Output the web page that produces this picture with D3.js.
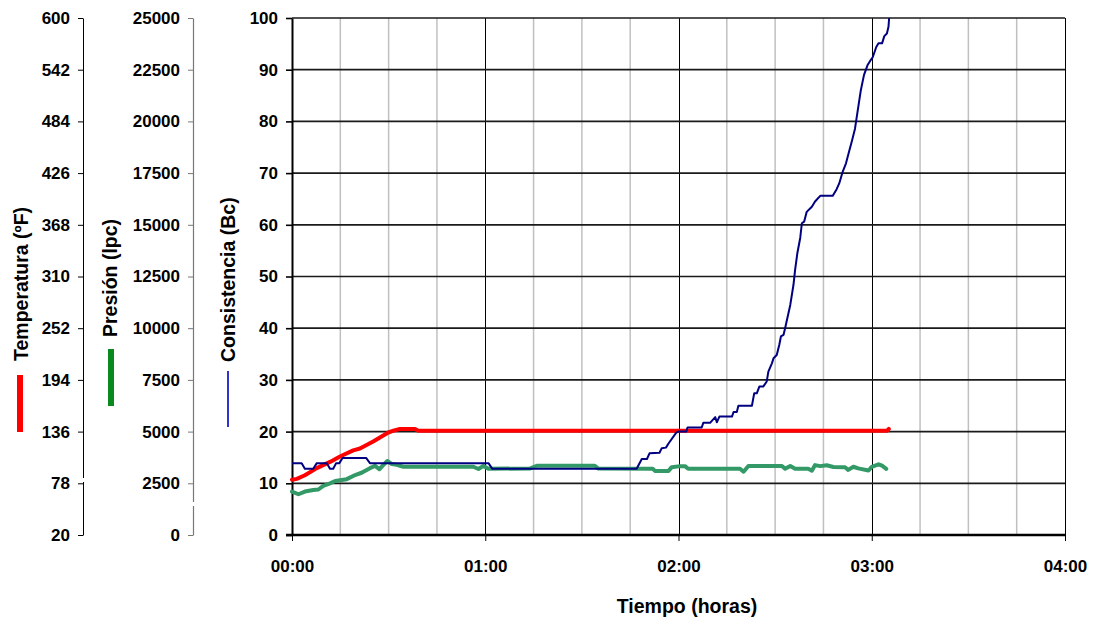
<!DOCTYPE html>
<html>
<head>
<meta charset="utf-8">
<script src="https://cdn.jsdelivr.net/npm/d3@7"></script>
<style>
  html, body { margin: 0; padding: 0; background: #fff; }
  svg { display: block; font-family: "Liberation Sans", Arial, sans-serif; font-weight: bold; }
</style>
</head>
<body>
<svg id="chart" width="1094" height="619"></svg>
<script>
// ---- tick values ----
const hourTicks = [0, 60, 120, 180, 240];               // minutes
const hourLabels = ["00:00", "01:00", "02:00", "03:00", "04:00"];
const temperatureTicks = [20, 78, 136, 194, 252, 310, 368, 426, 484, 542, 600];
const pressureTicks = [0, 2500, 5000, 7500, 10000, 12500, 15000, 17500, 20000, 22500, 25000];
const consistencyTicks = [0, 10, 20, 30, 40, 50, 60, 70, 80, 90, 100];

// ---- temperature (ºF) vs elapsed minutes ----
const tempMinutes = [0, 1.5, 4, 7.7, 11.8, 14.9, 19, 21.1, 25.2, 29.9, 31.5, 33.5, 38.2, 39.2, 184.8, 185.3];
const tempF       = [82, 83, 87, 95, 102, 108, 115, 117, 125, 135, 137, 139, 139, 137, 137, 139];

// ---- pressure (lpc) vs elapsed minutes ----
const presMinutes = [0, 2, 4, 6.6, 8.2, 9.7, 11.8, 13.4, 17, 19.6, 21.6, 24.2, 25.8, 27.1, 28.4, 29.6, 31, 32.5, 34.6,
  56.3, 57.9, 59.4, 61, 74, 76, 94, 95, 112, 112.7, 116.9, 117.9, 120.5, 122, 123, 139.1, 140.2, 141.7,
  152.1, 153.1, 154.7, 156.2, 160.3, 161.4, 162.4, 164, 166, 168.1, 171.7, 172.7, 174.3, 175.8, 179, 180,
  182.1, 183.2, 184.5];
const presLpc = [2100, 1970, 2100, 2180, 2200, 2370, 2500, 2610, 2700, 2900, 3010, 3230, 3340, 3180, 3390, 3580, 3430, 3390, 3300,
  3300, 3190, 3340, 3200, 3220, 3350, 3350, 3220, 3200, 3100, 3100, 3280, 3330, 3330, 3200, 3200, 3060, 3340,
  3340, 3200, 3340, 3200, 3200, 3110, 3380, 3330, 3370, 3290, 3280, 3150, 3300, 3220, 3120, 3300,
  3420, 3350, 3200];

// ---- consistency (Bc) vs elapsed minutes ----
const consMinutes = [0, 3, 4, 6.6, 7.7, 10.8, 11.8, 12.8, 13.7, 14.7, 15.7, 23, 24.2, 61, 62.2, 107, 108.6, 110.2, 111,
  114.1, 114.8, 116.1, 116.9, 119.3, 120, 122.4, 122.8, 127.2, 127.7, 129.8, 131.4, 131.9, 132.7, 136.6, 137.1,
  138.1, 138.6, 142.8, 143.5, 144.3, 145.1, 146.3, 147.4, 147.9, 149, 149.5, 150.5, 151.3, 151.8, 152.6, 153.1,
  154.7, 155.7, 156.2, 156.9, 157.8, 158.3, 159, 159.8, 161.4, 162.4, 164, 167.9, 169.1, 169.9, 171, 172,
  172.8, 173.8, 174.8, 175.5, 176.6, 177.6, 178.7, 179.5, 180.3, 181.4, 182.1, 183.2, 183.9, 184.7, 185.2, 185.4];
const consBc = [13.9, 13.9, 12.8, 12.8, 13.9, 13.9, 12.8, 12.8, 13.9, 13.9, 14.9, 14.9, 13.9, 13.9, 12.8, 12.8, 14.7, 14.7, 15.8,
  15.9, 16.8, 16.9, 17.7, 19.8, 20, 20, 20.8, 20.8, 21.7, 21.7, 22.8, 21.8, 22.9, 22.9, 23.8,
  23.8, 25, 25, 27.4, 27.4, 28.7, 28.7, 29.7, 31.6, 33.2, 34.2, 34.8, 36.8, 38.4, 38.7, 40,
  44.5, 48.4, 51.3, 54.5, 57.5, 60.3, 60.6, 62.5, 63.5, 64.5, 65.6, 65.6, 66.9, 68, 70.3, 71.9,
  73.8, 76.1, 78.6, 81.5, 86, 89, 90.9, 91.7, 92.4, 94.4, 95.1, 95.1, 96.5, 97, 98.3, 100];

// ---- layout ----
const plotLeft = 292, plotRight = 1065, plotTop = 18, plotBottom = 535;
const tempAxisX = 83, presAxisX = 193;

const svg = d3.select("#chart");

const x  = d3.scaleLinear().domain([0, 240]).range([plotLeft, plotRight]);
const yC = d3.scaleLinear().domain([0, 100]).range([plotBottom, plotTop]);
const yT = d3.scaleLinear().domain([20, 600]).range([plotBottom, plotTop]);
const yP = d3.scaleLinear().domain([0, 25000]).range([plotBottom, plotTop]);

// ---- grid ----
const grid = svg.append("g");
const minorTicks = d3.range(15, 240, 15).filter(m => m % 60 !== 0);
grid.selectAll("line.minor").data(minorTicks).join("line")
  .attr("x1", d => x(d)).attr("x2", d => x(d))
  .attr("y1", plotTop).attr("y2", plotBottom)
  .attr("stroke", "#c0c0c0").attr("stroke-width", 1.5);
grid.selectAll("line.major").data(hourTicks.slice(1)).join("line")
  .attr("x1", d => Math.round(x(d)) + 0.5).attr("x2", d => Math.round(x(d)) + 0.5)
  .attr("y1", plotTop).attr("y2", plotBottom)
  .attr("stroke", "#000").attr("stroke-width", 1);
grid.selectAll("line.h").data(consistencyTicks.slice(1)).join("line")
  .attr("x1", plotLeft).attr("x2", plotRight)
  .attr("y1", d => yC(d)).attr("y2", d => yC(d))
  .attr("stroke", "#1a1a1a").attr("stroke-width", 1.7);

// ---- axes ----
function styleAxis(g, color, width) {
  g.select(".domain").attr("stroke", color).attr("stroke-width", width);
  g.selectAll(".tick line").attr("stroke", color).attr("stroke-width", Math.max(1, width * 0.8));
  g.selectAll(".tick text").attr("fill", "#000").attr("font-size", "17px").attr("font-weight", "bold")
    .attr("font-family", "'Liberation Sans', Arial, sans-serif");
}

const gT = svg.append("g").attr("transform", `translate(${tempAxisX},0)`)
  .call(d3.axisLeft(yT).tickValues(temperatureTicks).tickSize(5).tickSizeOuter(0).tickPadding(8));
styleAxis(gT, "#000", 1);

const gP = svg.append("g").attr("transform", `translate(${presAxisX},0)`)
  .call(d3.axisLeft(yP).tickValues(pressureTicks).tickFormat(d3.format("d"))
    .tickSize(5).tickSizeOuter(0).tickPadding(8));
styleAxis(gP, "#777", 1.2);

// small breaks in the two outer axis lines
svg.append("rect").attr("x", tempAxisX - 2).attr("y", 478).attr("width", 4).attr("height", 4).attr("fill", "#fff");
svg.append("rect").attr("x", presAxisX - 2).attr("y", 502).attr("width", 4).attr("height", 4).attr("fill", "#fff");

const gC = svg.append("g").attr("transform", `translate(${plotLeft},0)`)
  .call(d3.axisLeft(yC).tickValues(consistencyTicks).tickSize(6).tickSizeOuter(0).tickPadding(8));
styleAxis(gC, "#000", 2);
gC.selectAll(".tick line").attr("stroke-width", 1.6);

const gX = svg.append("g").attr("transform", `translate(0,${plotBottom})`)
  .call(d3.axisBottom(x).tickValues(hourTicks).tickFormat((d, i) => hourLabels[i])
    .tickSize(6).tickSizeOuter(0).tickPadding(19));
styleAxis(gX, "#000", 2.5);
gX.selectAll(".tick line").attr("stroke-width", 1);
gX.select(".domain").attr("d", `M${plotLeft - 6},0H${plotRight}`);

// ---- series ----
const tempLine = d3.line().x(d => x(d[0])).y(d => yT(d[1]));
const presLine = d3.line().x(d => x(d[0])).y(d => yP(d[1]));
const consLine = d3.line().x(d => x(d[0])).y(d => yC(d[1]));

svg.append("path").datum(d3.zip(tempMinutes, tempF))
  .attr("d", tempLine).attr("fill", "none").attr("stroke", "#ff0000")
  .attr("stroke-width", 4).attr("stroke-linejoin", "round").attr("stroke-linecap", "round");
svg.append("path").datum(d3.zip(presMinutes, presLpc))
  .attr("d", presLine).attr("fill", "none").attr("stroke", "#339966")
  .attr("stroke-width", 4).attr("stroke-linejoin", "round").attr("stroke-linecap", "round");
svg.append("path").datum(d3.zip(consMinutes, consBc))
  .attr("d", consLine).attr("fill", "none").attr("stroke", "#000080")
  .attr("stroke-width", 2).attr("stroke-linejoin", "round");

// ---- axis titles with series keys ----
function vTitle(xPos, yBottom, text) {
  svg.append("text")
    .attr("transform", `translate(${xPos},${yBottom}) rotate(-90)`)
    .attr("text-anchor", "start")
    .attr("font-size", "19.5px")
    .attr("fill", "#000")
    .text(text);
}
vTitle(28, 361, "Temperatura (ºF)");
vTitle(117, 337, "Presión (lpc)");
vTitle(235, 362, "Consistencia (Bc)");

svg.append("rect").attr("x", 17).attr("y", 375).attr("width", 6).attr("height", 57).attr("fill", "#ff0000");
svg.append("rect").attr("x", 108).attr("y", 349).attr("width", 6).attr("height", 57).attr("fill", "#0a8a1e");
svg.append("rect").attr("x", 227).attr("y", 371).attr("width", 2).attr("height", 56).attr("fill", "#3333cc");

svg.append("text")
  .attr("x", 687).attr("y", 613)
  .attr("text-anchor", "middle")
  .attr("font-size", "19.5px")
  .attr("fill", "#000")
  .text("Tiempo (horas)");
</script>
</body>
</html>
